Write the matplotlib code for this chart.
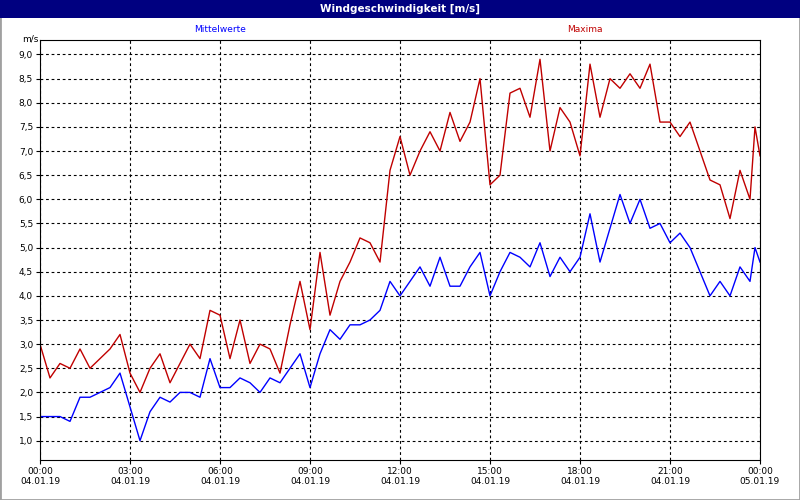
import matplotlib
matplotlib.use("Agg")
import matplotlib.pyplot as plt
from matplotlib.patches import Rectangle

# hours since 04.01.19 00:00
hours = [i / 3 for i in range(72)] + [23 + 50 / 60, 24.0]

maxima = [3.0, 2.3, 2.6, 2.5, 2.9, 2.5, 2.7, 2.9, 3.2, 2.4, 2.0, 2.5,
          2.8, 2.2, 2.6, 3.0, 2.7, 3.7, 3.6, 2.7, 3.5, 2.6, 3.0, 2.9,
          2.4, 3.4, 4.3, 3.3, 4.9, 3.6, 4.3, 4.7, 5.2, 5.1, 4.7, 6.6,
          7.3, 6.5, 7.0, 7.4, 7.0, 7.8, 7.2, 7.6, 8.5, 6.3, 6.5, 8.2,
          8.3, 7.7, 8.9, 7.0, 7.9, 7.6, 6.9, 8.8, 7.7, 8.5, 8.3, 8.6,
          8.3, 8.8, 7.6, 7.6, 7.3, 7.6, 7.0, 6.4, 6.3, 5.6, 6.6, 6.0,
          7.5, 6.9]

mittel = [1.5, 1.5, 1.5, 1.4, 1.9, 1.9, 2.0, 2.1, 2.4, 1.7, 1.0, 1.6,
          1.9, 1.8, 2.0, 2.0, 1.9, 2.7, 2.1, 2.1, 2.3, 2.2, 2.0, 2.3,
          2.2, 2.5, 2.8, 2.1, 2.8, 3.3, 3.1, 3.4, 3.4, 3.5, 3.7, 4.3,
          4.0, 4.3, 4.6, 4.2, 4.8, 4.2, 4.2, 4.6, 4.9, 4.0, 4.5, 4.9,
          4.8, 4.6, 5.1, 4.4, 4.8, 4.5, 4.8, 5.7, 4.7, 5.4, 6.1, 5.5,
          6.0, 5.4, 5.5, 5.1, 5.3, 5.0, 4.5, 4.0, 4.3, 4.0, 4.6, 4.3,
          5.0, 4.7]

tick_hours = list(range(0, 25, 3))
tick_labels = [f"{h:02d}:00\n04.01.19" for h in range(0, 24, 3)] + ["00:00\n05.01.19"]
y_ticks = [1.0 + 0.5 * i for i in range(17)]

fig = plt.figure(figsize=(8, 5), dpi=100)
fig.patch.set_facecolor("white")

# outer grey frame and title bar
fig.patches.append(Rectangle((0, 0), 1, 1, transform=fig.transFigure,
                             facecolor="none", edgecolor="#a0a0a0", lw=2))
fig.patches.append(Rectangle((0, 1 - 18 / 500), 1, 18 / 500, transform=fig.transFigure,
                             facecolor="#000080", edgecolor="none"))
fig.text(0.5, 1 - 9 / 500, "Windgeschwindigkeit [m/s]", color="white", fontsize=7.5,
         fontweight="bold", ha="center", va="center")

ax = fig.add_axes([40 / 800, 40 / 500, 720 / 800, 420 / 500])
ax.plot(hours, maxima, color="#c00000", lw=1)
ax.plot(hours, mittel, color="#0000ff", lw=1)
ax.set_xlim(0, 24)
ax.set_ylim(0.6, 9.3)
ax.set_xticks(tick_hours)
ax.set_xticklabels(tick_labels, fontsize=6.5)
ax.set_yticks(y_ticks)
ax.set_yticklabels([f"{v:.1f}".replace(".", ",") for v in y_ticks], fontsize=6.5)
ax.grid(True, color="black", linestyle=(0, (2.5, 2.5)), lw=0.8)
ax.tick_params(length=3, width=0.8, pad=2)
for s in ax.spines.values():
    s.set_linewidth(0.8)

fig.text(22 / 800, 1 - 44 / 500, "m/s", fontsize=6.5, va="bottom")
fig.text(220 / 800, 1 - 30 / 500, "Mittelwerte", color="#0000ff", fontsize=6.5, ha="center", va="center")
fig.text(585 / 800, 1 - 30 / 500, "Maxima", color="#c00000", fontsize=6.5, ha="center", va="center")

fig.savefig("out.png", dpi=100)
